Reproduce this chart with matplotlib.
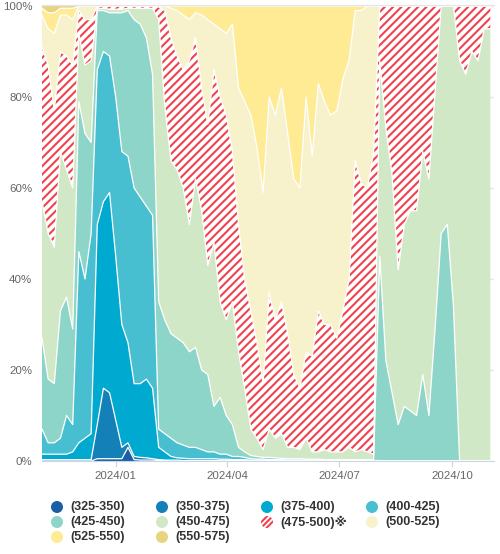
import numpy as np
import pandas as pd
import matplotlib
matplotlib.use("Agg")
import matplotlib.pyplot as plt
import matplotlib.patches as mpatches

plt.rcParams['font.family'] = ['Liberation Sans', 'DejaVu Sans', 'Noto Sans CJK JP']
plt.rcParams['hatch.linewidth'] = 1.5

# ---- data (share in %, 5-day samples from 2023-11-02) ----
dates = pd.date_range('2023-11-02', periods=74, freq='5D')

labels = ['(325-350)', '(350-375)', '(375-400)', '(400-425)', '(425-450)',
          '(450-475)', '(475-500)※', '(500-525)', '(525-550)', '(550-575)']
colors = ['#1a5fa6', '#1480b8', '#00a9cf', '#47bfd1', '#8ed5c9',
          '#d1e8c6', '#f0434f', '#f7f2cb', '#feeb93', '#e8d47e']

s325_350 = [0, 0, 0, 0, 0, 0, 0, 0, 0, 0.5,
            0.5, 0.5, 0.5, 0.5, 3, 0.3, 0.2, 0.2, 0.2, 0.1,
            0.1, 0, 0, 0, 0, 0, 0, 0, 0, 0,
            0, 0, 0, 0, 0, 0, 0, 0, 0, 0,
            0, 0, 0, 0, 0, 0, 0, 0, 0, 0,
            0, 0, 0, 0, 0, 0, 0, 0, 0, 0,
            0, 0, 0, 0, 0, 0, 0, 0, 0, 0,
            0, 0, 0, 0]
s350_375 = [0.3, 0.3, 0.3, 0.3, 0.3, 0.3, 0.3, 0.3, 0.3, 7.5,
            15.5, 14.5, 8.5, 2.5, 1, 0.7, 0.6, 0.5, 0.3, 0.2,
            0.1, 0.2, 0.2, 0.1, 0.1, 0.1, 0.1, 0.1, 0.1, 0.1,
            0.1, 0.1, 0.1, 0.1, 0, 0, 0, 0, 0, 0,
            0, 0, 0, 0, 0, 0, 0, 0, 0, 0,
            0, 0, 0, 0, 0, 0, 0, 0, 0, 0,
            0, 0, 0, 0, 0, 0, 0, 0, 0, 0,
            0, 0, 0, 0]
s375_400 = [1.2, 1.2, 1.2, 1.2, 1.2, 1.7, 3.7, 4.7, 5.7, 44,
            41, 44, 36, 27, 22, 16, 16.2, 17.3, 15.5, 2.7,
            1.8, 0.8, 0.5, 0.5, 0.4, 0.4, 0.4, 0.4, 0.4, 0.3,
            0.3, 0.2, 0.2, 0.2, 0.2, 0.2, 0.2, 0.1, 0.1, 0.1,
            0.1, 0.1, 0.1, 0.1, 0.1, 0, 0, 0, 0, 0,
            0, 0, 0, 0, 0, 0, 0, 0, 0, 0,
            0, 0, 0, 0, 0, 0, 0, 0, 0, 0,
            0, 0, 0, 0]
s400_425 = [5.5, 2.5, 2.5, 3.5, 8.5, 6, 42, 35, 44, 34,
            33, 30, 35, 38, 41, 43, 41, 38, 38, 4,
            4, 4, 3.3, 2.9, 2.5, 2.5, 2, 1.5, 1.5, 1.1,
            1.1, 0.7, 0.7, 0.5, 0.3, 0.2, 0.2, 0.2, 0.2, 0.2,
            0.1, 0.1, 0.1, 0.1, 0.1, 0.2, 0.2, 0.1, 0.1, 0.1,
            0.1, 0.1, 0.1, 0.1, 0.1, 0.1, 0, 0, 0, 0,
            0, 0, 0, 0, 0, 0, 0, 0, 0, 0,
            0, 0, 0, 0]
s425_450 = [20, 14, 13, 28, 26, 21, 33, 32, 20, 13,
            9, 9.5, 18.5, 30.5, 32, 37, 38, 37, 31, 28,
            25, 23, 23, 22.5, 21, 22, 17.5, 17, 10, 12.5,
            8.5, 7, 2, 1.2, 0.7, 0.6, 0.4, 0.5, 0.4, 0.3,
            0.3, 0.3, 0.3, 0.2, 0.2, 0.2, 0.1, 0.2, 0.2, 0.2,
            0.2, 0.2, 0.2, 0.2, 0.2, 44.9, 22, 15, 8, 12,
            11, 10, 19, 10, 29, 50, 52, 34, 0, 0,
            0, 0, 0, 0]
s450_475 = [30, 32, 30, 35, 28, 31, 15, 15, 18, 0.5,
            0.5, 0.8, 0.8, 0.8, 0.5, 2.5, 3.5, 6.5, 14.5, 62,
            47, 38, 37, 34, 28, 37, 35, 24, 36, 21,
            21, 27, 21, 14, 5.8, 4, 1.7, 6.2, 4.3, 5.4,
            2.5, 2.5, 2, 4.6, 1.6, 1.6, 2.2, 1.7, 1.7, 1.7,
            2.7, 1.7, 2.2, 1.7, 1.2, 43, 51, 48, 34, 40,
            44, 45, 49, 52, 52, 50, 48, 66, 88, 85,
            90, 88, 95, 95]
s475_500 = [34, 37, 30, 22, 25, 27, 5, 10, 9, 0.5,
            0.5, 0.7, 0.7, 0.7, 0.5, 0.5, 0.5, 0.5, 0.5, 2.8,
            21, 27, 25, 26, 36, 31, 27, 31, 38, 45,
            45, 33, 28, 24, 26, 21, 14.5, 30, 26, 29,
            25, 16, 13.5, 19, 21, 31, 27.5, 28, 25, 31,
            37, 64, 58.5, 58, 66.5, 12, 27, 37, 58, 48,
            45, 45, 32, 38, 19, 0, 0, 0, 12, 15,
            10, 12, 5, 5]
s500_525 = [7, 8, 17, 8, 9, 10, 1, 3, 3, 0,
            0, 0, 0, 0, 0, 0, 0, 0, 0, 0.2,
            1, 6.5, 10, 12, 9, 5.5, 16, 23, 10, 15,
            18, 28, 30, 39, 43, 43, 42, 43, 45, 47,
            44, 43, 44, 56, 44, 50, 49, 46, 50, 51,
            48, 33, 38, 40, 32, 0, 0, 0, 0, 0,
            0, 0, 0, 0, 0, 0, 0, 0, 0, 0,
            0, 0, 0, 0]
s525_550 = [1.5, 3.5, 4.5, 1.5, 1.5, 2.5, 0, 0, 0, 0,
            0, 0, 0, 0, 0, 0, 0, 0, 0, 0,
            0, 0.5, 1, 2, 3, 1.5, 2, 3, 4, 5,
            6, 4, 18, 21, 24, 31, 41, 20, 24, 18,
            28, 38, 40, 20, 33, 17, 21, 24, 23, 16,
            12, 1, 1, 0, 0, 0, 0, 0, 0, 0,
            0, 0, 0, 0, 0, 0, 0, 0, 0, 0,
            0, 0, 0, 0]
s550_575 = [0.5, 1.5, 1.5, 0.5, 0.5, 0.5, 0, 0, 0, 0,
            0, 0, 0, 0, 0, 0, 0, 0, 0, 0,
            0, 0, 0, 0, 0, 0, 0, 0, 0, 0,
            0, 0, 0, 0, 0, 0, 0, 0, 0, 0,
            0, 0, 0, 0, 0, 0, 0, 0, 0, 0,
            0, 0, 0, 0, 0, 0, 0, 0, 0, 0,
            0, 0, 0, 0, 0, 0, 0, 0, 0, 0,
            0, 0, 0, 0]

series = [s325_350, s350_375, s375_400, s400_425, s425_450,
          s450_475, s475_500, s500_525, s525_550, s550_575]

xticks = ['2024-01-01', '2024-04-01', '2024-07-01', '2024-10-01']
xticklabels = ['2024/01', '2024/04', '2024/07', '2024/10']
yticks = [0, 20, 40, 60, 80, 100]

# ---- figure ----
W, H = 500, 554
fig = plt.figure(figsize=(W / 100, H / 100), dpi=100)
ax = fig.add_axes([42 / W, 93 / H, 452 / W, 455 / H])

polys = ax.stackplot(dates, *series, colors=colors, linewidth=0)
hp = polys[6]
hp.set_facecolor('white')
hp.set_edgecolor('#f0434f')
hp.set_hatch('////')
hp.set_linewidth(0)

cum = np.cumsum(np.array(series, dtype=float), axis=0)
for row in cum[:-1]:
    ax.plot(dates, row, color='white', lw=0.9, zorder=3)

ax.set_xlim(dates[0], dates[-1] + pd.Timedelta(days=3))
ax.set_ylim(0, 100)
ax.set_yticks(yticks)
ax.set_yticklabels([f'{v}%' for v in yticks])
ax.set_xticks(pd.to_datetime(xticks))
ax.set_xticklabels(xticklabels)

ax.yaxis.grid(True, color='#e6e6e6', lw=1)
ax.set_axisbelow(True)
ax.axhline(100.25, color='#e6e6e6', lw=1, zorder=4, clip_on=False)
for sp in ['top', 'right', 'left']:
    ax.spines[sp].set_visible(False)
ax.spines['bottom'].set_color('#ccd6eb')
ax.spines['bottom'].set_zorder(5)
ax.tick_params(axis='y', length=0, pad=7, labelsize=8.25, labelcolor='#666666')
ax.tick_params(axis='x', length=4, color='#ccd6eb', pad=3, labelsize=8.25,
               labelcolor='#666666')

# ---- legend (row-major, 4 columns) ----
for i, (lab, col) in enumerate(zip(labels, colors)):
    r, c = divmod(i, 4)
    cx = 57 + 105 * c
    cy = 507 + 15 * r
    if i == 6:
        e = mpatches.Ellipse((cx / W, 1 - cy / H), 12 / W, 12 / H,
                             transform=fig.transFigure, facecolor='white',
                             edgecolor=col, hatch='//////', linewidth=0)
    else:
        e = mpatches.Ellipse((cx / W, 1 - cy / H), 12 / W, 12 / H,
                             transform=fig.transFigure, facecolor=col,
                             edgecolor='none')
    fig.add_artist(e)
    fig.text((cx + 13) / W, 1 - cy / H, lab, fontsize=9, fontweight='bold',
             color='#333333', va='center', ha='left')

fig.savefig('out.png', dpi=100)
